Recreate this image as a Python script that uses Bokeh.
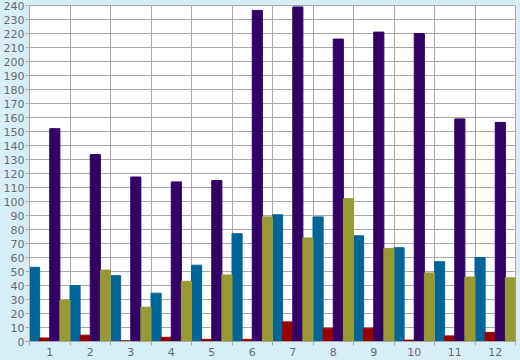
from bokeh.plotting import figure
from bokeh.models import FixedTicker, ColumnDataSource, Range1d
from bokeh.transform import dodge
from bokeh.embed import file_html
from bokeh.resources import INLINE

categories = ["1", "2", "3", "4", "5", "6", "7", "8", "9", "10", "11", "12"]
positions = [1, 2, 3, 4, 5, 6, 7, 8, 9, 10, 11, 12]
series_blue = [53, 40, 47, 34.5, 54.5, 77, 90.5, 89, 75.5, 67, 57, 60]
series_red = [2.5, 4.5, 0.5, 3, 1.5, 1.5, 14, 9.5, 9.5, 1, 4, 6.5]
series_purple = [152, 133.5, 117.5, 114, 115, 236.5, 239, 216, 221, 220, 159, 156.5]
series_olive = [29.5, 51, 24.5, 43, 47.5, 89, 74, 102, 66.5, 49, 46, 45.5]
y_ticks = list(range(0, 241, 10))

BG = "#D8EEF6"
GRID = "#A8A8A8"
TXT = "#6A6A6A"

src = ColumnDataSource(dict(x=positions, blue=series_blue, red=series_red,
                            purple=series_purple, olive=series_olive))

p = figure(width=520, height=360, output_backend="svg", toolbar_location=None,
           x_range=Range1d(0.5, 12.5), y_range=Range1d(0, 240),
           min_border_left=26, min_border_right=5, min_border_top=5, min_border_bottom=19)
p.background_fill_color = "white"
p.border_fill_color = BG
p.outline_line_color = GRID

w = 0.25
p.vbar(x=dodge("x", -0.375, range=p.x_range), top="blue", width=w, source=src, color="#006699")
p.vbar(x=dodge("x", -0.125, range=p.x_range), top="red", width=w, source=src, color="#990000")
p.vbar(x=dodge("x", 0.125, range=p.x_range), top="purple", width=w, source=src, color="#330066")
p.vbar(x=dodge("x", 0.375, range=p.x_range), top="olive", width=w, source=src, color="#999933")

bounds = [x + 0.5 for x in range(0, 13)]
p.xaxis.ticker = FixedTicker(ticks=positions, minor_ticks=bounds)
p.xaxis.major_label_overrides = {pos: c for pos, c in zip(positions, categories)}
p.xaxis.major_tick_out = 0
p.xaxis.major_tick_in = 0
p.xaxis.minor_tick_out = 4
p.xaxis.minor_tick_in = 0
p.xaxis.minor_tick_line_color = GRID
p.xaxis.major_label_standoff = 2
p.xgrid.ticker = FixedTicker(ticks=bounds)

p.yaxis.ticker = FixedTicker(ticks=y_ticks)
p.yaxis.major_tick_out = 4
p.yaxis.major_tick_in = 0
p.yaxis.minor_tick_line_color = None
p.yaxis.major_label_standoff = 1

for ax in (p.xaxis[0], p.yaxis[0]):
    ax.axis_line_color = GRID
    ax.major_tick_line_color = GRID
    ax.major_label_text_color = TXT
    ax.major_label_text_font = "DejaVu Sans"
    ax.major_label_text_font_size = "11px"

for g in (p.xgrid[0], p.ygrid[0]):
    g.grid_line_color = GRID
    g.grid_line_width = 1

html = file_html(p, INLINE)
html = html.replace("<head>", "<head><style>html,body{margin:0;padding:0;background:%s;}</style>" % BG, 1)
open("out.html", "w").write(html)
